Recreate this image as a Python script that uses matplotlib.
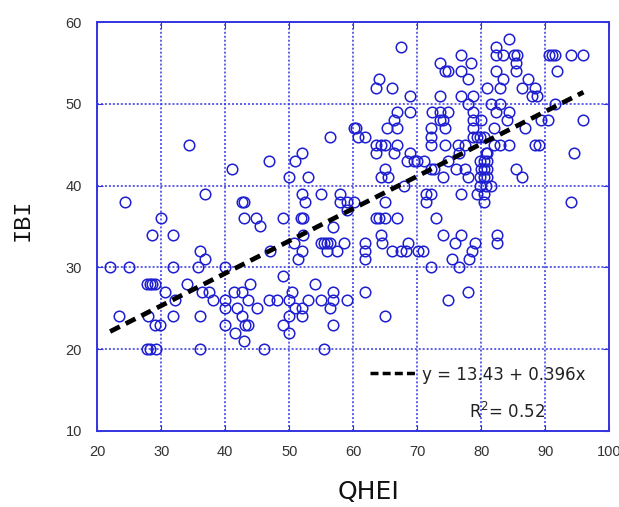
import numpy as np
import matplotlib
matplotlib.use("Agg")
import matplotlib.pyplot as plt

# QHEI / IBI pairs
qhei = [34.4, 41.0, 36.9, 24.4, 30.0, 42.6, 43.0, 42.9,
        28.5, 31.9, 45.5, 36.0, 36.9, 22.0, 25.0, 31.9, 35.8, 40.0, 27.8, 28.2, 28.6, 29.0,
        30.6, 34.0, 32.1, 36.3, 37.5, 38.1, 40.0, 40.0, 41.4, 42.6, 43.9, 43.5, 41.8, 42.6,
        44.9, 23.4, 28.0, 31.9, 36.0, 29.0, 29.8, 40.0, 43.1, 43.6, 41.5, 43.0, 27.8, 28.2,
        29.1, 36.0, 46.0,
        67.4, 64.0, 63.5, 66.0, 68.9, 66.9, 68.9, 66.4, 65.3, 66.9, 60.1, 60.5, 60.8, 61.9,
        56.4, 63.5, 64.4, 64.9, 66.9, 63.5, 66.4, 68.9, 68.4, 69.5, 70.0, 46.9, 50.9, 52.0,
        50.0, 53.0, 64.9, 64.4, 65.4, 67.9, 52.0, 52.5, 55.0, 58.0, 57.9, 59.0, 60.1, 59.0,
        64.9, 44.8, 49.0, 51.9, 52.2, 63.5, 64.0, 65.0, 66.9,
        56.9, 52.2, 50.8, 52.0, 51.4, 47.0, 54.9, 55.4, 55.9, 56.4, 55.9, 57.5, 58.5, 61.9,
        61.9, 61.9, 64.4, 64.5, 66.1, 67.4, 68.2, 68.5, 70.2, 49.0, 54.0, 50.5, 56.9, 61.9,
        46.9, 48.1, 49.9, 53.0, 55.0, 56.9, 59.0, 50.9, 52.0, 56.4, 49.9, 52.0, 49.0, 56.9,
        50.0, 64.9, 55.5,
        84.4, 82.4, 82.4, 83.5, 85.1, 85.6, 76.9, 90.6, 91.1, 91.5, 94.0, 95.9, 73.5, 78.4,
        74.4, 74.9, 76.9, 82.4, 85.5, 85.5, 91.9, 78.0, 83.4, 87.4, 80.9, 82.9, 86.4, 88.5,
        87.9, 88.8, 73.5, 76.9, 78.8, 78.0, 81.5, 82.9, 91.5, 72.3, 73.5, 74.9, 78.8, 82.3,
        84.4, 73.5, 74.0, 78.8, 80.0, 84.0, 89.3, 90.4, 95.9, 72.1, 74.4, 78.8, 82.0, 86.9,
        72.1, 78.8, 79.4, 79.9, 80.4, 72.1, 74.4, 76.4, 77.5, 82.0, 82.9, 84.4, 88.5, 89.0,
        76.5, 80.7, 80.9, 94.5, 71.0, 74.8, 79.9, 80.4, 80.9, 72.1, 72.6, 76.0, 77.5, 80.0,
        80.4, 80.9, 85.4, 74.0, 78.0, 79.9, 80.4, 80.9, 86.4, 79.9, 80.7, 81.5, 71.4, 72.2,
        76.9, 79.4, 80.4, 71.4, 80.4, 94.0, 73.0,
        74.0, 76.9, 75.9, 79.0, 78.5, 82.5, 82.5, 70.9, 75.5, 78.1, 72.1, 76.5, 78.0, 74.9]
ibi = [45, 42, 39, 38, 36, 38, 38, 36,
       34, 34, 35.1, 32, 31, 30, 30, 30, 30, 30, 28, 28, 28, 28,
       27, 28, 26, 27, 27, 26, 26, 25, 27, 27, 28, 26, 25, 24,
       25, 24, 24, 24, 24, 23, 23, 23, 23, 23, 22, 21, 20, 20,
       20, 20, 20,
       57, 53, 52, 52, 51, 49, 49, 48, 47, 47, 47, 47, 46, 46,
       46, 45, 45, 45, 45, 44, 44, 44, 43, 43, 43, 43, 43, 44,
       41, 41, 42, 41, 41, 40, 39, 38, 39, 39, 38, 38, 38, 37,
       38, 36, 36, 36, 36, 36, 36, 36, 36,
       35, 34, 33, 32, 31, 32, 33, 33, 33, 33, 32, 32, 33, 33,
       32, 31, 34, 33, 32, 32, 32, 33, 32, 29, 28, 27, 27, 27,
       26, 26, 26, 26, 26, 26, 26, 25, 25, 25, 24, 24, 23, 23,
       22, 24, 20,
       58, 57, 56, 56, 56, 56, 56, 56, 56, 56, 56, 56, 55, 55,
       54, 54, 54, 54, 55, 54, 54, 53, 53, 53, 52, 52, 52, 52,
       51, 51, 51, 51, 51, 50, 50, 50, 50, 49, 49, 49, 49, 49,
       49, 48, 48, 48, 48, 48, 48, 48, 48, 47, 47, 47, 47, 47,
       46, 46, 46, 46, 46, 45, 45, 45, 45, 45, 45, 45, 45, 45,
       44, 44, 44, 44, 43, 43, 43, 43, 43, 42, 42, 42, 42, 42,
       42, 42, 42, 41, 41, 41, 41, 41, 41, 40, 40, 40, 39, 39,
       39, 39, 39, 38, 38, 38, 36,
       34, 34, 33, 33, 32, 34, 33, 32, 31, 31, 30, 30, 27, 26]

intercept = 13.43
slope = 0.396
fit_range = [22, 96]

blue = '#1f1fd2'
grid_blue = '#3434e0'

fig = plt.figure(figsize=(6.19, 5.07), dpi=100)
ax = fig.add_axes([0.1572, 0.1505, 0.8267, 0.8055])

ax.plot(qhei, ibi, 'o', mfc='none', mec=blue, ms=7.6, mew=1.1, zorder=3)

xf = np.array(fit_range, dtype=float)
ax.plot(xf, intercept + slope * xf, color='black', lw=3.4, dashes=(2.3, 1.4), zorder=4)

# legend-ish annotation
ax.plot([62.7, 70.0], [17.1, 17.1], color='black', lw=2.5, dashes=(2.3, 1.2))
ax.text(70.8, 16.8, 'y = 13.43 + 0.396x', fontsize=12, va='center', ha='left', color='#222222')
ax.text(84.1, 12.3, 'R$^2$= 0.52', fontsize=12, va='center', ha='center', color='#222222')

ax.set_xlim(20, 100)
ax.set_ylim(10, 60)
ax.set_xticks(range(20, 101, 10))
ax.set_yticks(range(10, 61, 10))
ax.grid(True, color=grid_blue, linestyle=(0, (1.3, 1.3)), linewidth=1.1)
ax.set_axisbelow(True)
for s in ax.spines.values():
    s.set_color(grid_blue)
    s.set_linewidth(1.4)
ax.tick_params(direction='in', length=4, color=grid_blue, top=True, right=True,
               labelsize=10.5, labelcolor='#333333', pad=10)
ax.tick_params(axis='y', pad=11)
for lab in ax.get_xticklabels() + ax.get_yticklabels():
    lab.set_family('Liberation Sans')

fig.text(0.596, 0.030, 'QHEI', fontsize=18, ha='center', va='center', color='#111111')
fig.text(0.0355, 0.566, 'IBI', fontsize=17, family='Liberation Mono', rotation=90,
         ha='center', va='center', color='#111111')

fig.savefig('out.png', dpi=100)
